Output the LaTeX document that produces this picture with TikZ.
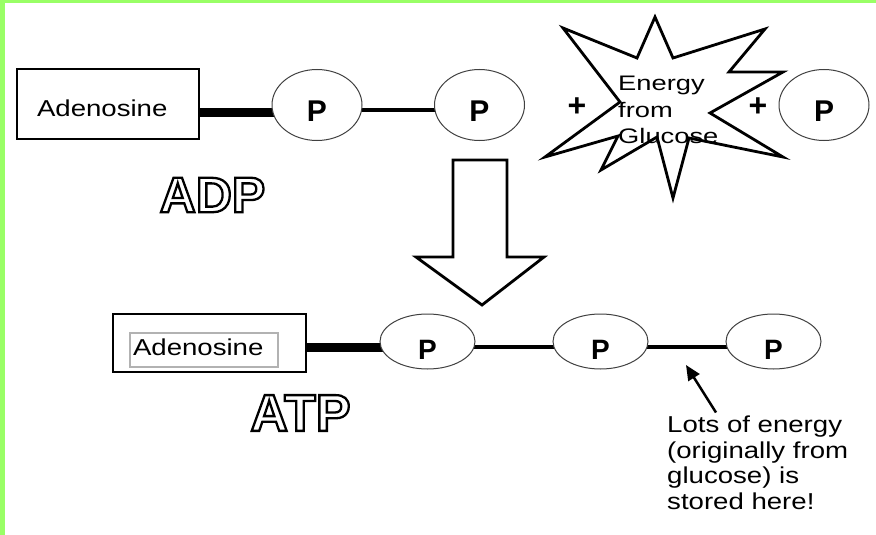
\documentclass[tikz,border=0pt]{standalone}
\usepackage{fontspec}
\setmainfont{Liberation Sans}
\newfontfamily\widefont[FakeStretch=1.2]{Liberation Sans}
\newfontfamily\widerfont[FakeStretch=1.3]{Liberation Sans}
\newcommand{\hollowtext}[1]{\special{pdf:literal direct 1 Tr 2.3 w}#1\special{pdf:literal direct 0 Tr 0.3985 w}}
\usetikzlibrary{shapes.geometric,arrows.meta,backgrounds}
\definecolor{bordergreen}{RGB}{153,255,102}
\begin{document}
\begin{tikzpicture}[x=1pt,y=-1pt,
  phos/.style={ellipse,draw=black!75,line width=1pt,fill=white,inner sep=0pt},
  phostop/.style={phos,minimum width=90pt,minimum height=71pt,font=\fontsize{30}{30}\selectfont\bfseries,text height=33.5pt,text depth=0pt},
  phosbot/.style={phos,minimum width=95pt,minimum height=55pt,font=\fontsize{28}{28}\selectfont\bfseries,text height=36pt,text depth=0pt},
  bond/.style={line width=3.2pt},
  bigbond/.style={line width=9pt},
  plussign/.style={font=\fontsize{32}{32}\selectfont\bfseries,inner sep=0pt},
  bigword/.style={inner sep=0pt},
  adtext/.style={font=\widefont\fontsize{23}{23}\selectfont,align=left},
  outline/.style={line width=2.8pt,line join=miter}
]
\useasboundingbox (0,0) rectangle (876,535);
\fill[bordergreen] (0,0) rectangle (5,535);
\fill[bordergreen] (0,0) rectangle (876,3);

% ---- ADP row ----
\node[draw,line width=1.3pt,fill=white,minimum width=182pt,minimum height=70pt,
      text width=142pt,inner xsep=20pt,adtext,text height=25pt,text depth=0pt] (ad1) at (108,104) {Adenosine};
\node[phostop] (p1) at (317,105) {P};
\node[phostop] (p2) at (479.5,105) {P};
\node[phostop] (p3) at (824,105) {P};
\node[plussign] (plus1) at (577,107) {+};
\node[plussign] (plus2) at (758,107) {+};

\coordinate (ya) at (0,112);
\coordinate (yb) at (0,110);
\begin{pgfonlayer}{background}
\draw[bigbond] (ad1.east |- ya) -- (p1.center |- ya);
\draw[bond] (p1.center |- yb) -- (p2.center |- yb);
\end{pgfonlayer}

% star
\draw[outline] (655,17) -- (673,58) -- (765,29) -- (729,72) -- (783,72) -- (710,113)
  -- (783,157) -- (689,138) -- (673,198) -- (657,137) -- (601,170) -- (618,136)
  -- (545,157) -- (620,102) -- (563,28) -- (637,58) -- cycle;
\node[anchor=north west,inner sep=0pt,align=left,font=\widerfont\fontsize{21}{26.5}\selectfont] (energy) at (618,76) {Energy\\from\\Glucose};

\node[bigword,font=\fontsize{50}{50}\selectfont\bfseries] (adp) at (212.5,195) {\hollowtext{ADP}};

% big arrow
\draw[outline,fill=white] (453,160) -- (507,160) -- (507,257) -- (544,257) -- (482,305) -- (416,257) -- (453,257) -- cycle;

% ---- ATP row ----
\node[draw,line width=2.6pt,fill=white,minimum width=193pt,minimum height=58pt] (ad2) at (209.5,343) {};
\node[draw=black!30,line width=2pt,minimum width=148pt,minimum height=34pt,
      text width=142pt,inner xsep=3pt,adtext,text depth=6pt] (ad2t) at (204,350) {Adenosine};
\node[phosbot] (p4) at (427.5,341.5) {P};
\node[phosbot] (p5) at (600.5,341.5) {P};
\node[phosbot] (p6) at (773.5,341.5) {P};

\coordinate (yc) at (0,347.5);
\coordinate (yd) at (0,347);
\begin{pgfonlayer}{background}
\draw[bigbond] (ad2.east |- yc) -- (p4.center |- yc);
\draw[bond] (p4.center |- yd) -- (p5.center |- yd);
\draw[bond] (p5.center |- yd) -- (p6.center |- yd);
\end{pgfonlayer}

\node[bigword,font=\fontsize{52}{52}\selectfont\bfseries] (atp) at (300.5,413) {\hollowtext{ATP}};

\node[anchor=north west,inner sep=0pt,align=left,font=\widefont\fontsize{23}{25.7}\selectfont] (lots) at (667,415.5)
  {Lots of energy\\(originally from\\glucose) is\\stored here!};
\coordinate (tip) at (686,365);
\draw[line width=2.5pt,-{Triangle[length=15pt,width=13pt]}] ([xshift=49pt,yshift=3pt]lots.north west) -- (tip);
\end{tikzpicture}
\end{document}
